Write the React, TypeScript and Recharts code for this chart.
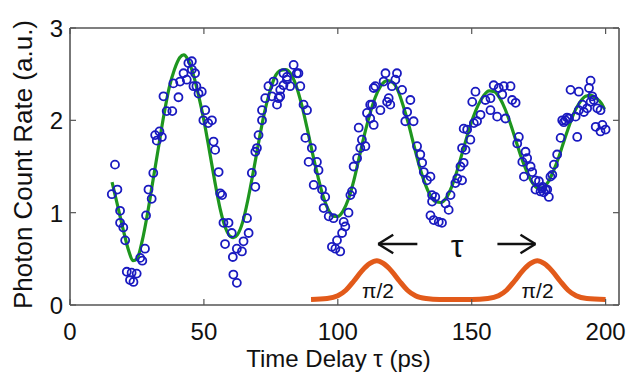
import React from 'react';
import {
    ComposedChart, Scatter, Line, XAxis, YAxis, ReferenceLine, ReferenceDot, Label,
} from 'recharts';

// measured photon counts (time delay ps, rate a.u.)
const photonCounts: [number, number][] = [
    [16.8, 1.52], [15.6, 1.2], [17.7, 1.25], [18.7, 1.02], [18.7, 0.89], [19.9, 0.84], [20.6, 0.7],
    [21.2, 0.36], [22.4, 0.27], [23.0, 0.35], [24.9, 0.34], [23.7, 0.25], [26.2, 0.51], [28.0, 0.61],
    [27.0, 0.48], [28.4, 0.97], [29.3, 1.25], [30.5, 1.15], [31.1, 1.43], [31.8, 1.84], [33.4, 1.88],
    [32.4, 1.78], [34.3, 1.82], [34.9, 2.26], [36.1, 2.1], [38.2, 2.1], [40.5, 2.25], [38.6, 2.4],
    [41.1, 2.42], [42.4, 2.51], [43.6, 2.44], [44.2, 2.62], [45.5, 2.55], [46.1, 2.37],
    [45.5, 2.64], [46.7, 2.51], [47.2, 2.37], [48.0, 2.29], [49.2, 2.31], [50.5, 2.11], [49.8, 2.0],
    [53.0, 2.0], [51.6, 1.97], [53.6, 1.77], [54.2, 1.68], [55.5, 1.44], [56.1, 1.21], [56.8, 1.19],
    [57.3, 0.89], [59.2, 0.89], [57.9, 0.66], [60.4, 0.78], [60.8, 0.52], [62.3, 0.61], [64.2, 0.58],
    [64.8, 0.69], [66.7, 0.78], [66.1, 0.94], [61.0, 0.33], [62.3, 0.24], [67.9, 1.43], [69.2, 1.28],
    [69.2, 1.66], [69.8, 1.7], [70.4, 1.84], [71.7, 2.0], [71.7, 2.11], [72.9, 2.24], [74.1, 2.37],
    [75.4, 2.26], [77.9, 2.24], [77.3, 2.17], [78.5, 2.33], [79.7, 2.51], [76.0, 2.42],
    [83.5, 2.6], [84.7, 2.51], [81.0, 2.44], [79.7, 2.38], [78.5, 2.26], [86.0, 2.37], [87.2, 2.17],
    [88.5, 2.11], [87.9, 1.81], [90.3, 1.7], [89.1, 1.55], [92.2, 1.55], [92.8, 1.46], [91.0, 1.3],
    [94.1, 1.25], [95.3, 1.17], [94.7, 1.05], [96.6, 0.96], [98.4, 0.94], [102.2, 0.9], [104.0, 1.0],
    [102.8, 0.85], [101.6, 0.78], [99.7, 0.7], [97.8, 0.63], [99.1, 0.61], [100.9, 0.58], [104.7, 1.19],
    [105.3, 1.23], [105.9, 1.5], [107.2, 1.59], [108.4, 1.7], [109.0, 1.79], [110.3, 1.72], [107.8, 1.92],
    [110.9, 2.08], [112.1, 2.17], [112.1, 2.02], [113.4, 2.35], [85.3, 2.51], [82.2, 2.37], [81.0, 2.47],
    [113.4, 1.95], [112.8, 2.17], [114.0, 2.37], [115.9, 2.11], [117.8, 2.51], [117.1, 2.42], [119.0, 2.24],
    [118.4, 2.2], [119.6, 2.17], [120.2, 2.37], [122.1, 2.51], [121.5, 2.44], [124.0, 2.33], [125.9, 2.09],
    [127.1, 2.22], [125.2, 1.99], [128.3, 1.99], [129.6, 1.72], [130.8, 1.63], [131.5, 1.54], [132.1, 1.44],
    [133.3, 1.35], [134.6, 1.39], [135.2, 1.19], [136.4, 1.17], [135.2, 1.12], [134.6, 0.97], [135.8, 0.92],
    [137.7, 0.9], [138.9, 0.89], [140.2, 1.1], [141.4, 1.03], [142.1, 1.19], [143.9, 1.32], [144.6, 1.37],
    [145.8, 1.5], [146.4, 1.7], [147.0, 1.91],
    [146.4, 1.35], [147.0, 1.54], [147.7, 1.68], [148.3, 1.9], [149.5, 1.79], [150.8, 1.97], [152.0, 1.99],
    [153.3, 2.06], [150.2, 2.2], [151.4, 2.31], [155.1, 2.22], [157.0, 2.24], [157.0, 2.11], [158.2, 2.38],
    [159.5, 2.04], [160.1, 2.35], [161.4, 2.28], [162.0, 2.37], [162.6, 2.02], [164.5, 2.37], [165.1, 2.22],
    [166.4, 2.19], [167.6, 1.82], [167.0, 1.75], [170.1, 1.66], [170.7, 1.59], [168.9, 1.55], [172.0, 1.5],
    [169.5, 1.39], [172.6, 1.44], [173.8, 1.35], [175.1, 1.34], [173.8, 1.25], [175.7, 1.23], [177.6, 1.25],
    [178.8, 1.17], [179.4, 1.39], [180.7, 1.52], [176.9, 1.22], [176.5, 1.28],
    [176.3, 1.26], [178.2, 1.25], [180.1, 1.41], [181.9, 1.63], [183.2, 1.81], [183.8, 2.0], [185.0, 2.0],
    [186.3, 2.02], [184.4, 1.98], [185.6, 2.03], [189.4, 1.82], [188.8, 2.04], [190.0, 2.11], [191.9, 2.09],
    [191.3, 2.17], [193.1, 2.13], [194.4, 2.2], [195.6, 2.22], [196.9, 2.13], [198.1, 2.11], [186.9, 2.33],
    [190.0, 2.31], [193.8, 2.35], [194.4, 2.43], [196.3, 1.93], [198.8, 1.95], [198.1, 1.88], [200.0, 1.9],
    [195.0, 2.26],
];

// damped oscillation fit
const fitCurve: [number, number][] = [
    [15.7, 1.33], [18, 1.05], [20, 0.8], [22, 0.58], [23.5, 0.48], [25, 0.5], [27, 0.7], [29, 1.0],
    [31, 1.35], [33, 1.7], [35, 2.05], [37, 2.35], [39, 2.55], [41, 2.68], [42.5, 2.71], [44, 2.66],
    [46, 2.5], [48, 2.27], [50, 2.0], [52, 1.68], [54, 1.35], [56, 1.05], [58, 0.84], [60, 0.74],
    [61, 0.73], [62.5, 0.76], [64.5, 0.9], [66.5, 1.15], [68.5, 1.45], [70.5, 1.77], [72.5, 2.07],
    [74.5, 2.3], [76.5, 2.47], [78.5, 2.54], [80.5, 2.55], [82.5, 2.5], [84.5, 2.37], [86.5, 2.17],
    [88.5, 1.92], [90.5, 1.65], [92.5, 1.4], [94.5, 1.18], [96.5, 1.03], [98.5, 0.96], [100, 0.96],
    [102, 1.02], [104, 1.15], [106, 1.35], [108, 1.6], [110, 1.85], [112, 2.07], [114, 2.25],
    [116, 2.37], [118.5, 2.43], [120.5, 2.41], [122.5, 2.32], [124.5, 2.15], [126.5, 1.95], [128.5, 1.72],
    [130.5, 1.5], [132.5, 1.32], [134.5, 1.19], [136.5, 1.12], [138.5, 1.11], [140.5, 1.16], [142.5, 1.28],
    [144.5, 1.45], [146.5, 1.65], [148.5, 1.85], [150.5, 2.03], [152.5, 2.17], [154.5, 2.27], [156.5, 2.32],
    [158.5, 2.31], [160.5, 2.24], [162.5, 2.12], [164.5, 1.96], [166.5, 1.78], [168.5, 1.6], [170.5, 1.45],
    [172.5, 1.33], [174.5, 1.27], [176.5, 1.27], [178.5, 1.33], [180.5, 1.45], [182.5, 1.6], [184.5, 1.78],
    [186.5, 1.95], [188.5, 2.1], [190.5, 2.2], [192.5, 2.26], [194.5, 2.27], [196.5, 2.24], [198.5, 2.18],
    [199.6, 2.12],
];

// the two pi/2 pulses
const pulseCurve: [number, number][] = [
    [90, 0.06], [96, 0.07], [100, 0.1], [103, 0.16], [106, 0.26], [109, 0.37], [112, 0.45], [114.6, 0.48],
    [117, 0.45], [120, 0.37], [123, 0.26], [126, 0.16], [129, 0.1], [133, 0.07], [138, 0.06], [150, 0.06],
    [156, 0.07], [160, 0.1], [163, 0.16], [166, 0.26], [169, 0.37], [172, 0.45], [174.5, 0.48], [177, 0.45],
    [180, 0.37], [183, 0.26], [186, 0.16], [189, 0.1], [193, 0.07], [200, 0.06],
];

const xTicks = [0, 50, 100, 150, 200];
const yTicks = [0, 1, 2, 3];
const pulseLabels = [{ x: 115, label: 'π/2' }, { x: 174.6, label: 'π/2' }];

const toPoints = (arr: [number, number][]) => arr.map(([x, y]) => ({ x, y }));

const FONT = '"Liberation Sans", Arial, sans-serif';
const FRAME = '#555';
const TICK = 6;

const BottomTick = ({ x, y, payload }: any) => (
    <g>
        <line x1={x} x2={x} y1={y} y2={y - TICK} stroke={FRAME} strokeWidth={1.2} />
        <text x={x} y={y + 35} textAnchor="middle" fontSize={24} fontFamily={FONT} fill="#111">{payload.value}</text>
    </g>
);
const LeftTick = ({ x, y, payload }: any) => (
    <g>
        <line x1={x} x2={x + TICK} y1={y} y2={y} stroke={FRAME} strokeWidth={1.2} />
        <text x={x - 7} y={y + 9} textAnchor="end" fontSize={24} fontFamily={FONT} fill="#111">{payload.value}</text>
    </g>
);
const TopTick = ({ x, y }: any) => <line x1={x} x2={x} y1={y} y2={y + TICK} stroke={FRAME} strokeWidth={1.2} />;
const RightTick = ({ x, y }: any) => <line x1={x} x2={x - TICK} y1={y} y2={y} stroke={FRAME} strokeWidth={1.2} />;

const XTitle = ({ viewBox }: any) => (
    <text x={viewBox.x + viewBox.width / 2 - 6} y={viewBox.y + 62} textAnchor="middle" fontSize={24} fontFamily={FONT} fill="#111">
        Time Delay τ (ps)
    </text>
);
const YTitle = ({ viewBox }: any) => {
    const cx = viewBox.x + viewBox.width - 38;
    const cy = viewBox.y + viewBox.height / 2 - 2;
    return (
        <text x={cx} y={cy} transform={`rotate(-90, ${cx}, ${cy})`} textAnchor="middle" fontSize={26} fontFamily={FONT} fill="#111">
            Photon Count Rate (a.u.)
        </text>
    );
};

const Circle = ({ cx, cy }: any) => <circle cx={cx} cy={cy} r={4} fill="none" stroke="#1a1ac0" strokeWidth={1.8} />;

const arrowY = 0.66;
const arrows = [
    { from: 129.7, tip: 115.1 },
    { from: 159.6, tip: 173.8 },
];

export default function App() {
    return (
        <div style={{ position: 'absolute', left: 0, top: 0, width: 640, height: 376, background: '#fff' }}>
            <ComposedChart width={640} height={376} margin={{ top: 27, right: 20, bottom: 70, left: 69 }}>
                <XAxis type="number" dataKey="x" domain={[0, 205]} ticks={xTicks} height={1} tickSize={0} tickMargin={0}
                    tickLine={false} tick={BottomTick} axisLine={{ stroke: FRAME, strokeWidth: 1.6 }} allowDataOverflow>
                    <Label content={XTitle} />
                </XAxis>
                <XAxis xAxisId="top" orientation="top" type="number" dataKey="x" domain={[0, 205]} ticks={xTicks} height={1}
                    tickSize={0} tickMargin={0} tickLine={false} tick={TopTick} axisLine={{ stroke: FRAME, strokeWidth: 1.6 }} allowDataOverflow />
                <YAxis type="number" domain={[0, 3]} ticks={yTicks} width={1} tickSize={0} tickMargin={0}
                    tickLine={false} tick={LeftTick} axisLine={{ stroke: FRAME, strokeWidth: 1.6 }} allowDataOverflow>
                    <Label content={YTitle} />
                </YAxis>
                <YAxis yAxisId="right" orientation="right" type="number" domain={[0, 3]} ticks={yTicks} width={1} tickSize={0}
                    tickMargin={0} tickLine={false} tick={RightTick} axisLine={{ stroke: FRAME, strokeWidth: 1.6 }} allowDataOverflow />

                <Scatter data={toPoints(photonCounts)} dataKey="y" shape={Circle} isAnimationActive={false} />
                <Line data={toPoints(fitCurve)} dataKey="y" type="monotone" stroke="#1e961f" strokeWidth={3.2} dot={false} isAnimationActive={false} />
                <Line data={toPoints(pulseCurve)} dataKey="y" type="monotone" stroke="#e25a1a" strokeWidth={5} dot={false} isAnimationActive={false} />

                {arrows.map((a, i) => {
                    const back = a.tip + (a.from > a.tip ? 5.6 : -5.6);
                    return (
                        <React.Fragment key={i}>
                            <ReferenceLine segment={[{ x: a.from, y: arrowY }, { x: a.tip, y: arrowY }]} stroke="#111" strokeWidth={2.4} />
                            <ReferenceLine segment={[{ x: back, y: arrowY + 0.1 }, { x: a.tip, y: arrowY }]} stroke="#111" strokeWidth={2.4} />
                            <ReferenceLine segment={[{ x: back, y: arrowY - 0.1 }, { x: a.tip, y: arrowY }]} stroke="#111" strokeWidth={2.4} />
                        </React.Fragment>
                    );
                })}
                <ReferenceDot x={144.5} y={0.52} r={0} shape={(p: any) => (
                    <text x={p.cx} y={p.cy} textAnchor="middle" fontSize={32} fontFamily={FONT} fill="#111">τ</text>
                )} />
                {pulseLabels.map((p) => (
                    <ReferenceDot key={p.x} x={p.x} y={0.076} r={0} shape={(s: any) => (
                        <text x={s.cx} y={s.cy} textAnchor="middle" fontSize={21} fontFamily={FONT} fill="#111">{p.label}</text>
                    )} />
                ))}
            </ComposedChart>
        </div>
    );
}
